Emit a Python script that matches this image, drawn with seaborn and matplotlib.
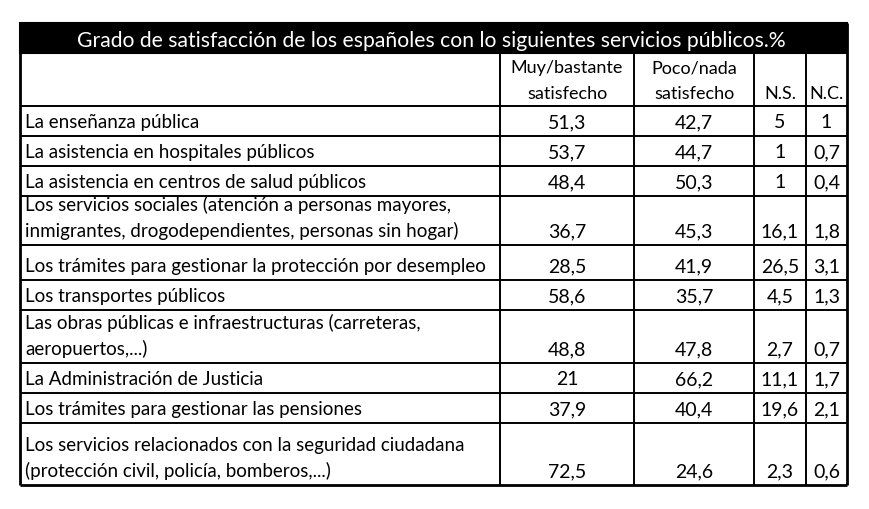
import matplotlib
matplotlib.use("Agg")
import matplotlib.pyplot as plt
from matplotlib.patches import Rectangle
import seaborn as sns

sns.set_theme(style="white")
plt.rcParams['font.family'] = ['Lato', 'DejaVu Sans']

title = "Grado de satisfacción de los españoles con lo siguientes servicios públicos.%"
col_headers = [["Muy/bastante", "satisfecho"], ["Poco/nada", "satisfecho"], ["", "N.S."], ["", "N.C."]]
services = [
    "La enseñanza pública",
    "La asistencia en hospitales públicos",
    "La asistencia en centros de salud públicos",
    "Los servicios sociales (atención a personas mayores,\ninmigrantes, drogodependientes, personas sin hogar)",
    "Los trámites para gestionar la protección por desempleo",
    "Los transportes públicos",
    "Las obras públicas e infraestructuras (carreteras,\naeropuertos,...)",
    "La Administración de Justicia",
    "Los trámites para gestionar las pensiones",
    "Los servicios relacionados con la seguridad ciudadana\n(protección civil, policía, bomberos,...)",
]
muy_satisfecho = [51.3, 53.7, 48.4, 36.7, 28.5, 58.6, 48.8, 21, 37.9, 72.5]
poco_satisfecho = [42.7, 44.7, 50.3, 45.3, 41.9, 35.7, 47.8, 66.2, 40.4, 24.6]
ns = [5, 1, 1, 16.1, 26.5, 4.5, 2.7, 11.1, 19.6, 2.3]
nc = [1, 0.7, 0.4, 1.8, 3.1, 1.3, 0.7, 1.7, 2.1, 0.6]

# layout (pixels)
col_edges = [20, 500, 634, 754, 806, 847]
title_top, title_bottom, header_bottom = 23, 53, 106
row_bottoms = [136, 166, 196, 245, 280, 310, 363, 393, 423, 485]
line_gap = 26
base_off = 8


def fmt(v):
    return f"{v:g}".replace(".", ",")


fig = plt.figure(figsize=(8.7, 5.09), dpi=100)
ax = fig.add_axes([0, 0, 1, 1])
ax.set_xlim(0, 870)
ax.set_ylim(509, 0)
ax.axis("off")

# title bar
ax.add_patch(Rectangle((col_edges[0], title_top), col_edges[-1] - col_edges[0],
                       title_bottom - title_top, facecolor="black", edgecolor="black", lw=1.5))
ax.text((col_edges[0] + col_edges[-1]) / 2 - 2, title_bottom - 6, title, color="white",
        fontsize=15.2, ha="center", va="baseline")

# grid lines
lw_in = 1.4
ax.hlines([title_bottom, header_bottom] + row_bottoms[:-1], col_edges[0], col_edges[-1],
          color="black", lw=lw_in)
ax.hlines([row_bottoms[-1]], col_edges[0], col_edges[-1], color="black", lw=2.0)
ax.vlines(col_edges[1:-1], title_bottom, row_bottoms[-1], color="black", lw=lw_in)
ax.vlines([col_edges[0], col_edges[-1]], title_top, row_bottoms[-1], color="black", lw=2.0)

# headers
for j, hdr in enumerate(col_headers):
    cx = (col_edges[j + 1] + col_edges[j + 2]) / 2
    for k, line in enumerate(reversed(hdr)):
        if line:
            ax.text(cx, header_bottom - 7 - k * line_gap, line, fontsize=13,
                    ha="center", va="baseline", color="black")

# body
columns = [muy_satisfecho, poco_satisfecho, ns, nc]
for i, label in enumerate(services):
    bottom = row_bottoms[i]
    for k, line in enumerate(reversed(label.split("\n"))):
        ax.text(col_edges[0] + 5, bottom - base_off - k * line_gap, line, fontsize=13.5,
                ha="left", va="baseline", color="black")
    for j, col in enumerate(columns):
        cx = (col_edges[j + 1] + col_edges[j + 2]) / 2
        ax.text(cx, bottom - base_off, fmt(col[i]), fontsize=14,
                ha="center", va="baseline", color="black")

fig.savefig("out.png", dpi=100, facecolor="white")
